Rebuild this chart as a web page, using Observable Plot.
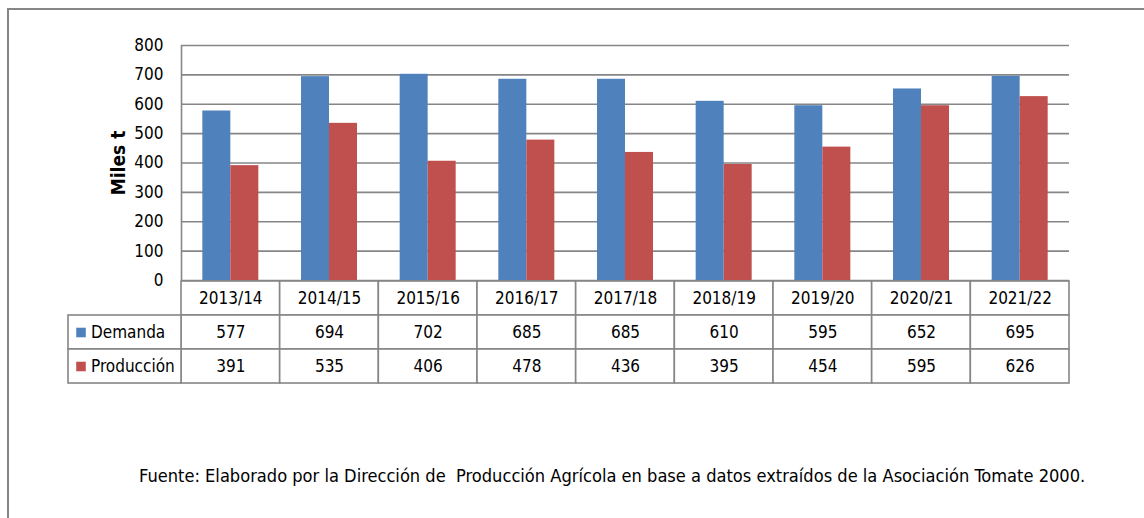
<!DOCTYPE html>
<html>
<head>
<meta charset="utf-8">
<script src="https://cdn.jsdelivr.net/npm/d3@7"></script>
<script src="https://cdn.jsdelivr.net/npm/@observablehq/plot@0.6"></script>
<style>
  body { margin: 0; background: #fff; }
  #wrap { position: relative; width: 1144px; height: 518px; overflow: hidden; background: #fff; }
  #border { position: absolute; left: 7px; top: 8px; width: 1300px; height: 700px;
            border-top: 2px solid #868686; border-left: 2px solid #868686; }
  #chart { position: absolute; left: 0; top: 0; }
  #table { position: absolute; left: 0; top: 281px; }
  #caption { position: absolute; left: 139px; top: 464px; white-space: pre; color: #000;
             font-family: "DejaVu Sans Condensed", "Liberation Sans Narrow", sans-serif; font-size: 18.1px; line-height: 24px; }
  svg { display: block; }
</style>
</head>
<body>
<div id="wrap">
  <div id="border"></div>
  <div id="chart"></div>
  <div id="table"></div>
  <div id="caption"></div>
</div>
<script>
// ---- data ----
const categories = ["2013/14", "2014/15", "2015/16", "2016/17", "2017/18", "2018/19", "2019/20", "2020/21", "2021/22"];
const demanda    = [577, 694, 702, 685, 685, 610, 595, 652, 695];
const produccion = [391, 535, 406, 478, 436, 395, 454, 595, 626];
const series = ["Demanda", "Producción"];
const seriesColors = ["#4F81BD", "#C0504D"];
const yTicks = [0, 100, 200, 300, 400, 500, 600, 700, 800];
const yLabel = "Miles t";
const captionText = "Fuente: Elaborado por la Dirección de  Producción Agrícola en base a datos extraídos de la Asociación Tomate 2000.";

// ---- layout ----
const FONT = '"DejaVu Sans Condensed", "Liberation Sans Narrow", sans-serif';
const GRID = "#868686";
const W = 1144, left = 181, right = 1069, labelLeft = 68;
const bw = (right - left) / categories.length;
const barW = 28;

const rowsD = categories.map((c, i) => ({cat: c, series: series[0], value: demanda[i]}));
const rowsP = categories.map((c, i) => ({cat: c, series: series[1], value: produccion[i]}));

const chart = Plot.plot({
  width: W, height: 281,
  marginTop: 45, marginBottom: 1, marginLeft: left, marginRight: W - right,
  style: {fontFamily: FONT, fontSize: "17px", color: "#000", background: "transparent", overflow: "visible"},
  x: {domain: categories, padding: 0, round: false, axis: null},
  y: {domain: [0, 800], axis: null},
  color: {domain: series, range: seriesColors},
  marks: [
    Plot.gridY(yTicks, {stroke: GRID, strokeOpacity: 1, strokeWidth: 1.6}),
    Plot.ruleX([categories[0]], {x: d => d, dx: -bw / 2, y1: 0, y2: 800, stroke: GRID, strokeWidth: 1.6}),
    Plot.barY(rowsD, {x: "cat", y: "value", fill: "series", insetLeft: bw / 2 - barW, insetRight: bw / 2}),
    Plot.barY(rowsP, {x: "cat", y: "value", fill: "series", insetLeft: bw / 2, insetRight: bw / 2 - barW}),
    Plot.axisY(yTicks, {tickSize: 0, tickPadding: 18, fontSize: 17, label: null}),
    Plot.text([yLabel], {text: d => d, frameAnchor: "left", textAnchor: "middle", dx: -63, rotate: -90,
                         fontWeight: "bold", fontSize: 19})
  ]
});
document.getElementById("chart").appendChild(chart);

// ---- table ----
const cells = [];
categories.forEach((c, i) => {
  cells.push({cat: c, row: "header", label: c});
  cells.push({cat: c, row: series[0], label: String(demanda[i])});
  cells.push({cat: c, row: series[1], label: String(produccion[i])});
});
const c0 = bw / 2 + left; // center of first column
const table = Plot.plot({
  width: W, height: 104,
  marginTop: 0, marginBottom: 2, marginLeft: left, marginRight: W - right,
  style: {fontFamily: FONT, fontSize: "17px", color: "#000", background: "transparent", overflow: "visible"},
  x: {domain: categories, padding: 0, round: false, axis: null},
  y: {domain: ["header", ...series], padding: 0, round: false, axis: null},
  color: {domain: series, range: seriesColors},
  marks: [
    Plot.cell(cells, {x: "cat", y: "row", fill: "white", stroke: GRID, strokeWidth: 1.6}),
    Plot.cell(series, {x: () => categories[0], y: d => d, dx: -bw, insetLeft: -(left - labelLeft - bw),
                       fill: "white", stroke: GRID, strokeWidth: 1.6}),
    Plot.text(cells, {x: "cat", y: "row", text: "label", fontSize: 17, fill: "#000"}),
    Plot.dot(series, {x: () => categories[0], y: d => d, dx: 80.5 - c0, symbol: "square", r: 5.4, fill: d => d, stroke: "none"}),
    Plot.text(series, {x: () => categories[0], y: d => d, text: d => d, dx: 90.5 - c0, textAnchor: "start", fontSize: 17, fill: "#000"})
  ]
});
document.getElementById("table").appendChild(table);

document.getElementById("caption").textContent = captionText;
</script>
</body>
</html>
